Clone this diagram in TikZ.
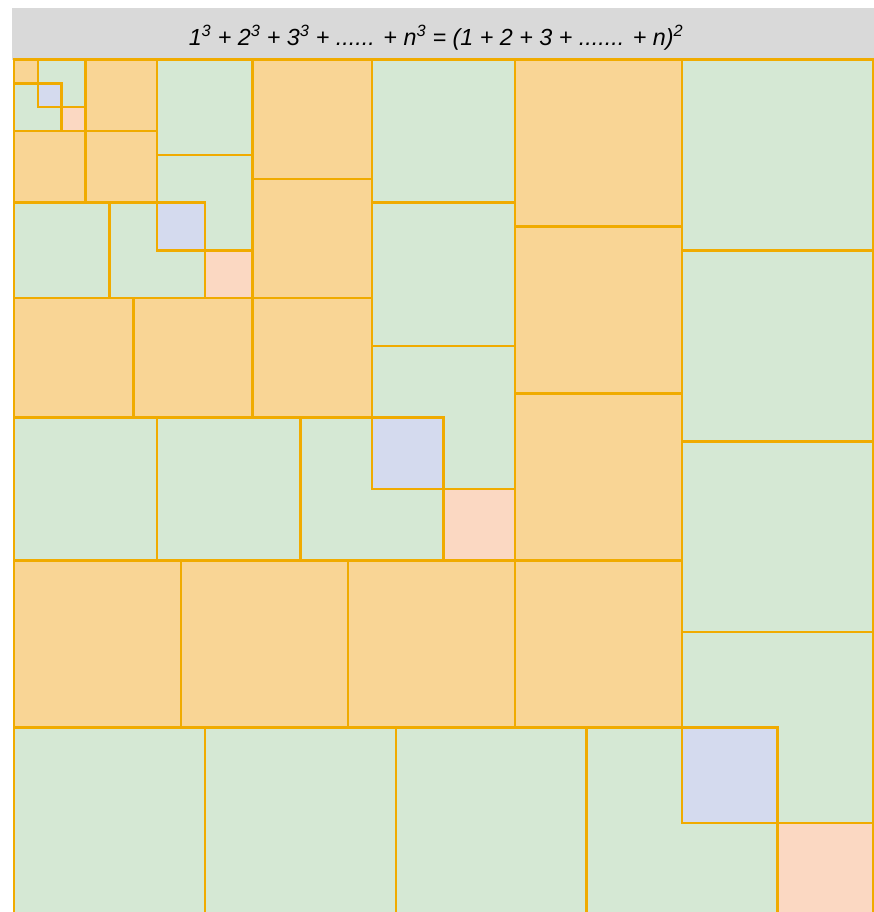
\documentclass[tikz,border=0pt]{standalone}
\usepackage{fontspec}
\setmainfont{Liberation Sans}
\definecolor{hdr}{HTML}{D9D9D9}
\definecolor{orfill}{HTML}{F9D595}
\definecolor{grfill}{HTML}{D5E8D4}
\definecolor{blfill}{HTML}{D4DAEE}
\definecolor{pcfill}{HTML}{FBD8C2}
\definecolor{edge}{HTML}{F0AB00}
\newcommand\sqbox[4]{\draw[#4] (#1,#2) rectangle ++(#3,#3);}
\tikzset{
  oddsq/.style={fill=orfill, draw=edge, line width=2.5pt},
  evensq/.style={fill=grfill, draw=edge, line width=2.5pt},
  overlapsq/.style={fill=blfill, draw=edge, line width=2.5pt},
  gapsq/.style={fill=pcfill, draw=edge, line width=2.5pt},
}
\begin{document}
\begin{tikzpicture}[x=1pt,y=-1pt]
\useasboundingbox (0,0) rectangle (874,912);
\fill[hdr] (12,8) rectangle (874,60);
\node[anchor=base, inner sep=0pt, font=\itshape\fontsize{23.3}{28}\selectfont] (title) at (436,46)
  {1\textsuperscript{3} + 2\textsuperscript{3} + 3\textsuperscript{3} + ...... + n\textsuperscript{3} = (1 + 2 + 3 + ....... + n)\textsuperscript{2}};
\begin{scope}
\clip (0,0) rectangle (874,912);
\begin{scope}[shift={(14,59.5)}, x=23.86pt, y=-23.86pt]
% n=1
\sqbox{0}{0}{1}{oddsq}
% n=2
\sqbox{1}{0}{2}{evensq}
\sqbox{0}{1}{2}{evensq}
\sqbox{1}{1}{1}{overlapsq}
\sqbox{2}{2}{1}{gapsq}
% n=3
\sqbox{3}{0}{3}{oddsq}
\sqbox{3}{3}{3}{oddsq}
\sqbox{0}{3}{3}{oddsq}
% n=4
\sqbox{6}{0}{4}{evensq}
\sqbox{6}{4}{4}{evensq}
\sqbox{0}{6}{4}{evensq}
\sqbox{4}{6}{4}{evensq}
\sqbox{6}{6}{2}{overlapsq}
\sqbox{8}{8}{2}{gapsq}
% n=5
\sqbox{10}{0}{5}{oddsq}
\sqbox{10}{5}{5}{oddsq}
\sqbox{10}{10}{5}{oddsq}
\sqbox{0}{10}{5}{oddsq}
\sqbox{5}{10}{5}{oddsq}
% n=6
\sqbox{15}{0}{6}{evensq}
\sqbox{15}{6}{6}{evensq}
\sqbox{15}{12}{6}{evensq}
\sqbox{0}{15}{6}{evensq}
\sqbox{6}{15}{6}{evensq}
\sqbox{12}{15}{6}{evensq}
\sqbox{15}{15}{3}{overlapsq}
\sqbox{18}{18}{3}{gapsq}
% n=7
\sqbox{21}{0}{7}{oddsq}
\sqbox{21}{7}{7}{oddsq}
\sqbox{21}{14}{7}{oddsq}
\sqbox{21}{21}{7}{oddsq}
\sqbox{0}{21}{7}{oddsq}
\sqbox{7}{21}{7}{oddsq}
\sqbox{14}{21}{7}{oddsq}
% n=8
\sqbox{28}{0}{8}{evensq}
\sqbox{28}{8}{8}{evensq}
\sqbox{28}{16}{8}{evensq}
\sqbox{28}{24}{8}{evensq}
\sqbox{0}{28}{8}{evensq}
\sqbox{8}{28}{8}{evensq}
\sqbox{16}{28}{8}{evensq}
\sqbox{24}{28}{8}{evensq}
\sqbox{28}{28}{4}{overlapsq}
\sqbox{32}{32}{4}{gapsq}
\end{scope}
\end{scope}
\end{tikzpicture}
\end{document}
